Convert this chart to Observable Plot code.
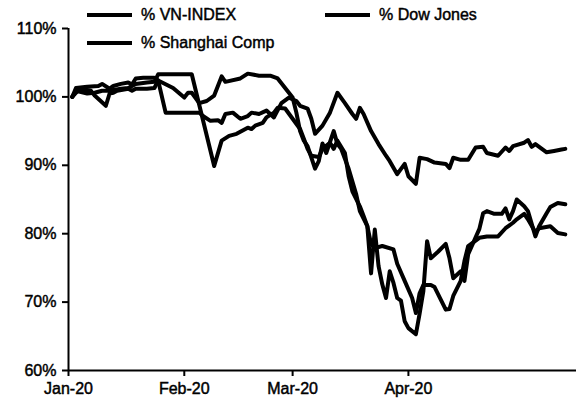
<!DOCTYPE html>
<html>
<head>
<meta charset="utf-8">
<script src="https://cdn.jsdelivr.net/npm/d3@7"></script>
<script src="https://cdn.jsdelivr.net/npm/@observablehq/plot@0.6"></script>
<style>
  html, body { margin: 0; padding: 0; background: #fff; }
  #wrap { position: relative; width: 576px; height: 403px; font-family: "Liberation Sans", Arial, sans-serif; color: #000; }
  #wrap svg text { stroke: #000; stroke-width: 0.45px; }
  .leg { position: absolute; display: flex; align-items: center; font-size: 16px; line-height: 18px; white-space: nowrap; -webkit-text-stroke: 0.45px #000; }
  .leg .sw { display: inline-block; width: 45px; height: 4px; background: #000; margin-right: 9px; }
</style>
</head>
<body>
<div id="wrap"></div>
<script>
const seriesNames = ["% VN-INDEX", "% Dow Jones", "% Shanghai Comp"];
const xTickDates = ["2020-01-01", "2020-02-01", "2020-03-01", "2020-04-01"];
const xTickLabels = ["Jan-20", "Feb-20", "Mar-20", "Apr-20"];
const yTicks = [60, 70, 80, 90, 100, 110];
const xDomain = ["2020-01-01", "2020-05-16"];

const vnIndex = [
["2020-01-02",100.0],["2020-01-03",100.9],["2020-01-06",100.5],["2020-01-08",100.6],["2020-01-10",100.9],["2020-01-12",100.9],["2020-01-15",101.2],["2020-01-17",101.3],["2020-01-19",101.9],["2020-01-22",102.1],["2020-01-24",102.2],["2020-01-25",103.3],["2020-02-03",103.3],["2020-02-09",89.9],["2020-02-11",93.6],["2020-02-13",94.3],["2020-02-15",94.6],["2020-02-18",95.5],["2020-02-19",95.3],["2020-02-20",95.8],["2020-02-22",96.2],["2020-02-23",97.0],["2020-02-25",97.7],["2020-02-26",98.4],["2020-02-28",98.3],["2020-03-01",96.8],["2020-03-03",95.3],["2020-03-04",93.9],["2020-03-05",92.4],["2020-03-06",91.4],["2020-03-08",91.2],["2020-03-09",92.4],["2020-03-11",93.3],["2020-03-12",92.4],["2020-03-13",93.6],["2020-03-15",91.8],["2020-03-16",88.4],["2020-03-17",86.2],["2020-03-19",84.0],["2020-03-20",82.6],["2020-03-21",81.1],["2020-03-22",78.5],["2020-03-23",77.9],["2020-03-25",78.2],["2020-03-28",77.7],["2020-03-29",75.6],["2020-03-31",73.1],["2020-04-02",70.6],["2020-04-03",68.4],["2020-04-04",71.3],["2020-04-05",72.5],["2020-04-07",72.5],["2020-04-08",72.2],["2020-04-11",68.9],["2020-04-12",69.0],["2020-04-13",70.9],["2020-04-15",73.1],["2020-04-16",76.0],["2020-04-17",78.2],["2020-04-20",79.4],["2020-04-22",79.6],["2020-04-25",79.6],["2020-04-27",80.8],["2020-04-29",81.6],["2020-04-30",82.1],["2020-05-02",82.9],["2020-05-03",82.1],["2020-05-05",80.2],["2020-05-06",80.8],["2020-05-09",81.1],["2020-05-11",80.1],["2020-05-13",79.9]
];

const dowJones = [
["2020-01-02",100.0],["2020-01-04",101.2],["2020-01-07",100.9],["2020-01-08",100.2],["2020-01-11",98.7],["2020-01-12",100.5],["2020-01-13",100.6],["2020-01-14",100.9],["2020-01-17",101.2],["2020-01-18",100.9],["2020-01-19",101.2],["2020-01-22",101.2],["2020-01-24",101.3],["2020-01-25",102.4],["2020-01-29",101.3],["2020-02-01",99.9],["2020-02-02",100.6],["2020-02-03",100.6],["2020-02-05",99.1],["2020-02-07",99.4],["2020-02-09",100.2],["2020-02-10",101.6],["2020-02-11",103.0],["2020-02-12",102.2],["2020-02-16",102.7],["2020-02-18",103.4],["2020-02-21",103.1],["2020-02-24",103.1],["2020-02-26",102.7],["2020-02-28",101.3],["2020-03-01",99.9],["2020-03-02",97.7],["2020-03-03",95.0],["2020-03-04",93.6],["2020-03-05",92.8],["2020-03-07",89.5],["2020-03-08",90.6],["2020-03-09",93.2],["2020-03-10",91.8],["2020-03-12",95.0],["2020-03-13",93.1],["2020-03-14",92.4],["2020-03-16",89.5],["2020-03-18",85.8],["2020-03-19",83.3],["2020-03-21",81.1],["2020-03-22",74.2],["2020-03-23",80.6],["2020-03-24",75.3],["2020-03-25",72.6],["2020-03-26",70.6],["2020-03-27",74.5],["2020-03-28",72.8],["2020-03-29",70.6],["2020-03-30",70.2],["2020-03-31",67.2],["2020-04-01",66.2],["2020-04-03",65.3],["2020-04-04",68.3],["2020-04-05",71.6],["2020-04-06",78.9],["2020-04-07",76.4],["2020-04-09",77.4],["2020-04-11",78.5],["2020-04-12",76.4],["2020-04-13",73.5],["2020-04-15",74.5],["2020-04-16",73.1],["2020-04-17",77.0],["2020-04-20",80.7],["2020-04-21",83.0],["2020-04-22",83.3],["2020-04-24",82.9],["2020-04-26",82.9],["2020-04-27",83.7],["2020-04-28",82.1],["2020-04-29",83.3],["2020-04-30",85.0],["2020-05-02",84.0],["2020-05-03",83.3],["2020-05-05",79.6],["2020-05-06",81.1],["2020-05-08",83.0],["2020-05-09",83.9],["2020-05-11",84.5],["2020-05-13",84.3]
];

const shanghaiComp = [
["2020-01-02",100.0],["2020-01-03",101.3],["2020-01-06",101.5],["2020-01-09",101.6],["2020-01-10",101.9],["2020-01-12",101.2],["2020-01-13",101.6],["2020-01-15",101.9],["2020-01-17",102.1],["2020-01-18",101.8],["2020-01-19",102.7],["2020-01-21",102.8],["2020-01-24",102.8],["2020-01-25",102.4],["2020-01-27",97.7],["2020-02-05",97.7],["2020-02-06",97.2],["2020-02-08",96.5],["2020-02-10",96.6],["2020-02-11",96.2],["2020-02-12",97.5],["2020-02-14",97.7],["2020-02-16",96.8],["2020-02-18",97.2],["2020-02-19",97.7],["2020-02-21",97.5],["2020-02-23",98.0],["2020-02-25",97.0],["2020-02-27",99.1],["2020-02-29",99.9],["2020-03-02",99.4],["2020-03-03",98.7],["2020-03-05",98.3],["2020-03-06",96.8],["2020-03-07",94.6],["2020-03-09",95.8],["2020-03-11",97.7],["2020-03-13",100.6],["2020-03-15",99.1],["2020-03-17",97.5],["2020-03-18",96.8],["2020-03-19",98.4],["2020-03-20",97.5],["2020-03-22",95.0],["2020-03-24",93.1],["2020-03-26",91.4],["2020-03-27",90.6],["2020-03-29",88.7],["2020-03-31",90.2],["2020-04-01",88.4],["2020-04-03",87.3],["2020-04-04",91.1],["2020-04-06",90.9],["2020-04-08",90.4],["2020-04-11",90.2],["2020-04-12",89.6],["2020-04-13",91.1],["2020-04-15",90.8],["2020-04-17",90.8],["2020-04-19",92.6],["2020-04-21",92.7],["2020-04-22",91.8],["2020-04-25",91.4],["2020-04-27",92.6],["2020-04-28",92.1],["2020-04-29",92.8],["2020-05-02",93.3],["2020-05-03",93.7],["2020-05-04",92.7],["2020-05-05",93.1],["2020-05-08",91.9],["2020-05-10",92.1],["2020-05-12",92.3],["2020-05-13",92.4]
];

const parse = d3.utcParse("%Y-%m-%d");
const table = [];
[vnIndex, dowJones, shanghaiComp].forEach((s, i) => {
  s.forEach(([d, v]) => table.push({series: seriesNames[i], date: parse(d), value: v}));
});
const tickDates = xTickDates.map(parse);
const labelFor = d => xTickLabels[tickDates.findIndex(t => +t === +d)];

const chart = Plot.plot({
  width: 576,
  height: 403,
  marginLeft: 68,
  marginRight: 0,
  marginTop: 28,
  marginBottom: 33,
  style: {fontFamily: "'Liberation Sans', Arial, sans-serif", fontSize: "16px", color: "#000", background: "#fff", overflow: "visible"},
  x: {type: "utc", domain: xDomain.map(parse), label: null, axis: null},
  y: {domain: [60, 110], label: null, axis: null},
  marks: [
    Plot.axisY({ticks: yTicks, tickFormat: d => d + "%", tickSize: 6, tickPadding: 6, strokeWidth: 2, label: null}),
    Plot.axisX({ticks: tickDates, tickFormat: labelFor, tickSize: 6, tickPadding: 6, strokeWidth: 2, label: null}),
    Plot.ruleX([parse(xDomain[0])], {strokeWidth: 2}),
    Plot.ruleY([60], {strokeWidth: 2}),
    Plot.line(table, {x: "date", y: "value", z: "series", stroke: "#000", strokeWidth: 4})
  ]
});

const wrap = document.getElementById("wrap");
wrap.appendChild(chart);
const legendPos = [[87, 6], [325, 6], [87, 34]];
seriesNames.forEach((name, i) => {
  const el = document.createElement("div");
  el.className = "leg";
  el.style.left = legendPos[i][0] + "px";
  el.style.top = legendPos[i][1] + "px";
  el.innerHTML = '<span class="sw"></span><span></span>';
  el.lastChild.textContent = name;
  wrap.appendChild(el);
});
</script>
</body>
</html>
